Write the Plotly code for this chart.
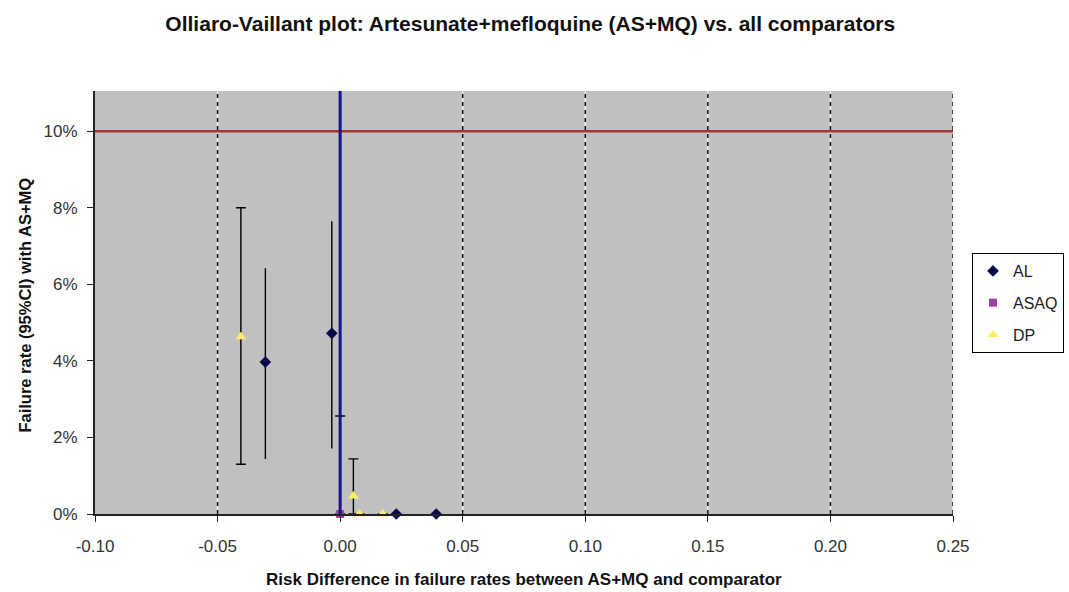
import plotly.graph_objects as go

# Data
al_x = [-0.0305, -0.0034, 0.0229, 0.0392]
al_y = [0.0397, 0.0472, 0.0, 0.0]
al_hi = [0.0642, 0.0765, 0.0, 0.0]
al_lo = [0.0144, 0.0171, 0.0, 0.0]

asaq_x = [0.0]
asaq_y = [0.0]
asaq_hi = [0.0256]
asaq_lo = [0.0]

dp_x = [-0.0405, 0.0054, 0.0079, 0.0174]
dp_y = [0.0463, 0.0047, 0.0, 0.0]
dp_hi = [0.080, 0.0144, 0.0, 0.0]
dp_lo = [0.013, 0.0, 0.0, 0.0]

threshold = 0.10
x_ticks = [-0.10, -0.05, 0.00, 0.05, 0.10, 0.15, 0.20, 0.25]
y_ticks = [0, 0.02, 0.04, 0.06, 0.08, 0.10]

FONT = "Liberation Sans, Arial, sans-serif"

def err(y, hi, lo, width):
    return dict(type="data", symmetric=False,
                array=[h - v for h, v in zip(hi, y)],
                arrayminus=[v - l for v, l in zip(y, lo)],
                color="black", thickness=1.4, width=width)

fig = go.Figure()
fig.add_trace(go.Scatter(x=al_x, y=al_y, mode="markers", name="AL", legendgroup="a",
                         marker=dict(symbol="diamond", size=9, color="#0a0a4a"),
                         error_y=err(al_y, al_hi, al_lo, 0), cliponaxis=False))
fig.add_trace(go.Scatter(x=asaq_x, y=asaq_y, mode="markers", name="ASAQ", legendgroup="b",
                         marker=dict(symbol="square", size=8, color="#a040a0"),
                         error_y=err(asaq_y, asaq_hi, asaq_lo, 5), cliponaxis=False))
fig.add_trace(go.Scatter(x=dp_x, y=dp_y, mode="markers", name="DP", legendgroup="c",
                         marker=dict(symbol="triangle-up", size=10, color="#f5f06a"),
                         error_y=err(dp_y, dp_hi, dp_lo, 5), cliponaxis=False))

# dashed vertical gridlines (light underlay + black dashes)
for xv in x_ticks[1:]:
    fig.add_shape(type="line", xref="x", yref="paper", x0=xv, x1=xv, y0=0, y1=1,
                  line=dict(color="#ececec", width=1.5), layer="below")
    fig.add_shape(type="line", xref="x", yref="paper", x0=xv, x1=xv, y0=0, y1=1,
                  line=dict(color="#111111", width=1.5, dash="4px,4px"), layer="below")

fig.add_shape(type="line", xref="paper", yref="y", x0=0, x1=1, y0=threshold, y1=threshold,
              line=dict(color="#a8372c", width=2.5), layer="below")
fig.add_shape(type="line", xref="x", yref="paper", x0=0, x1=0, y0=0, y1=1,
              line=dict(color="#14148a", width=3), layer="above")

fig.add_annotation(text="<b>Risk Difference in failure rates between AS+MQ and comparator</b>",
                   xref="paper", yref="paper", x=0.5, y=-0.156, xanchor="center", yanchor="middle",
                   showarrow=False, font=dict(family=FONT, size=17, color="#111"))
fig.add_annotation(text="<b>Failure rate (95%CI) with AS+MQ</b>", textangle=-90,
                   xref="paper", yref="paper", x=-0.0816, y=0.495, xanchor="center", yanchor="middle",
                   showarrow=False, font=dict(family=FONT, size=16.5, color="#111"))

fig.update_layout(
    width=1069, height=592,
    margin=dict(l=95, r=116, t=91, b=78, autoexpand=False),
    paper_bgcolor="white", plot_bgcolor="#c0c0c0",
    font=dict(family=FONT, size=17, color="#333"),
    title=dict(text="<b>Olliaro-Vaillant plot: Artesunate+mefloquine (AS+MQ) vs. all comparators</b>",
               x=0.496, xref="container", xanchor="center",
               y=1 - 24 / 592, yref="container", yanchor="middle",
               font=dict(family=FONT, size=21, color="#111")),
    legend=dict(x=972 / 1069, y=1 - 253 / 592, xref="container", yref="container",
                xanchor="left", yanchor="top",
                bordercolor="black", borderwidth=1, bgcolor="white",
                font=dict(family=FONT, size=16, color="#222"), itemwidth=30,
                tracegroupgap=8),
    showlegend=True,
)
fig.update_xaxes(range=[-0.10, 0.25], tickvals=x_ticks,
                 ticktext=[f"{v:.2f}" for v in x_ticks],
                 showgrid=False,
                 showline=True, linecolor="#222", linewidth=2,
                 ticks="outside", ticklen=6, tickcolor="#222", ticklabelstandoff=10,
                 zeroline=False)
fig.update_yaxes(range=[0, 0.1105], tickvals=y_ticks,
                 ticktext=[f"{int(round(v*100))}%" for v in y_ticks],
                 showgrid=False, zeroline=False,
                 showline=True, linecolor="#222", linewidth=2,
                 ticks="outside", ticklen=6, tickcolor="#222", ticklabelstandoff=6)

fig.write_html("out.html")
